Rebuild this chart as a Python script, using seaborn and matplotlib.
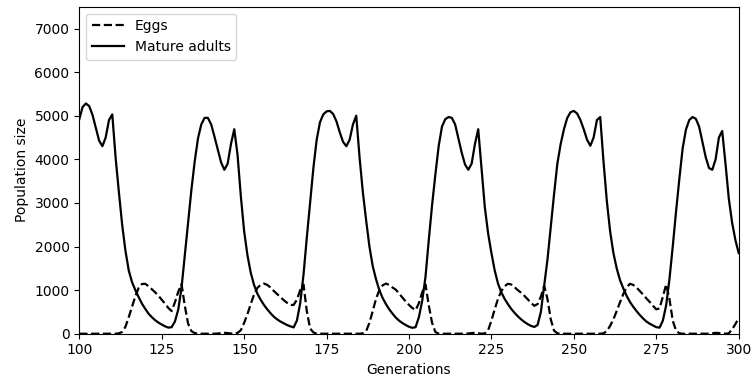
import matplotlib
matplotlib.use("Agg")
import matplotlib.pyplot as plt
import numpy as np
import pandas as pd
import seaborn as sns

# Generations shown on the x axis
generations = list(range(100, 301))

# Mature adults, one value per generation
adults = [
    4920, 5200, 5280, 5220, 5020, 4720, 4430, 4300, 4500, 4900,  # 100-109
    5030, 4050, 3250, 2500, 1900, 1450, 1180, 1000, 840, 690,    # 110-119
    570, 460, 380, 310, 255, 210, 170, 140, 150, 280,            # 120-129
    550, 1050, 1800, 2550, 3300, 3950, 4480, 4800, 4950, 4950,   # 130-139
    4800, 4520, 4220, 3930, 3760, 3900, 4350, 4690, 4100, 3150,  # 140-149
    2350, 1800, 1400, 1120, 920, 780, 660, 560, 470, 390,        # 150-159
    330, 280, 240, 200, 170, 145, 300, 700, 1350, 2200,          # 160-169
    3000, 3800, 4450, 4850, 5030, 5100, 5110, 5040, 4870, 4620,  # 170-179
    4400, 4300, 4450, 4800, 5000, 4050, 3250, 2600, 2000, 1550,  # 180-189
    1250, 1000, 820, 680, 560, 460, 370, 300, 245, 200,          # 190-199
    160, 135, 150, 380, 750, 1300, 2150, 2950, 3650, 4300,       # 200-209
    4750, 4920, 4970, 4950, 4800, 4480, 4150, 3880, 3760, 3900,  # 210-219
    4350, 4690, 3800, 2900, 2300, 1850, 1450, 1150, 950, 800,    # 220-229
    680, 570, 480, 400, 330, 270, 220, 180, 155, 200,            # 230-239
    500, 1100, 1700, 2450, 3200, 3900, 4350, 4690, 4950, 5080,   # 240-249
    5110, 5050, 4900, 4690, 4450, 4310, 4500, 4900, 4970, 3950,  # 250-259
    3050, 2350, 1850, 1500, 1230, 1040, 870, 730, 620, 520,      # 260-269
    430, 350, 280, 230, 190, 150, 140, 300, 650, 1250,           # 270-279
    2000, 2800, 3550, 4250, 4680, 4900, 4970, 4930, 4750, 4400,  # 280-289
    4050, 3800, 3760, 4000, 4500, 4650, 3900, 3100, 2550, 2150,  # 290-299
    1850,                                                        # 300
]

# Eggs, one value per generation
eggs = [
    0, 0, 0, 0, 0, 0, 0, 0, 0, 0,                                # 100-109
    0, 0, 10, 40, 160, 380, 620, 860, 1050, 1140,                # 110-119
    1145, 1090, 1020, 950, 870, 780, 690, 590, 520, 720,         # 120-129
    960, 1140, 640, 230, 60, 15, 0, 0, 0, 0,                     # 130-139
    0, 0, 5, 15, 20, 15, 5, 0, 20, 80,                           # 140-149
    250, 450, 680, 900, 1050, 1120, 1150, 1120, 1060, 980,       # 150-159
    910, 840, 770, 710, 660, 660, 780, 1000, 1130, 520,          # 160-169
    120, 30, 0, 0, 0, 0, 0, 0, 0, 0,                             # 170-179
    0, 0, 0, 0, 0, 0, 10, 60, 250, 520,                          # 180-189
    800, 1000, 1110, 1150, 1120, 1060, 1010, 920, 830, 740,      # 190-199
    660, 590, 540, 700, 950, 1130, 650, 250, 40, 0,              # 200-209
    0, 0, 0, 0, 0, 0, 0, 0, 5, 15,                               # 210-219
    20, 10, 0, 10, 80, 300, 560, 800, 980, 1090,                 # 220-229
    1145, 1130, 1070, 1000, 940, 870, 790, 710, 640, 680,        # 230-239
    850, 1100, 800, 330, 70, 10, 0, 0, 0, 0,                     # 240-249
    0, 0, 0, 0, 0, 0, 0, 0, 0, 10,                               # 250-259
    60, 180, 330, 520, 720, 910, 1060, 1145, 1120, 1060,         # 260-269
    980, 900, 810, 730, 640, 560, 580, 850, 1130, 800,           # 270-279
    300, 70, 10, 0, 0, 0, 0, 0, 0, 0,                            # 280-289
    0, 0, 10, 20, 15, 5, 0, 10, 100, 220,                        # 290-299
    360,                                                         # 300
]

x_ticks = [100, 125, 150, 175, 200, 225, 250, 275, 300]
y_ticks = [0, 1000, 2000, 3000, 4000, 5000, 6000, 7000]

df = pd.DataFrame({"generation": generations, "eggs": eggs, "adults": adults})

fig = plt.figure(figsize=(7.51, 3.81), dpi=100)
ax = fig.add_axes([0.1056, 0.1241, 0.878, 0.8583])

sns.lineplot(data=df, x="generation", y="eggs", ax=ax, color="black",
             linestyle="--", linewidth=1.6, label="Eggs")
sns.lineplot(data=df, x="generation", y="adults", ax=ax, color="black",
             linewidth=1.6, label="Mature adults")

ax.set_xlim(100, 300)
ax.set_ylim(0, 7500)
ax.set_xticks(x_ticks)
ax.set_yticks(y_ticks)
ax.set_xlabel("Generations")
ax.set_ylabel("Population size")
ax.legend(loc="upper left", handlelength=2.3)

fig.savefig("out.png", dpi=100)
